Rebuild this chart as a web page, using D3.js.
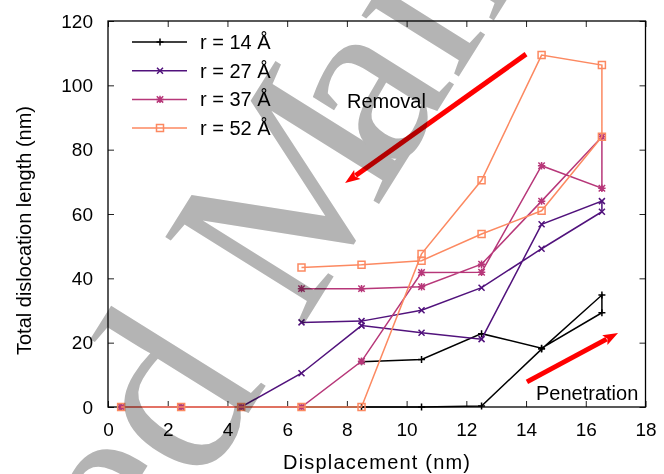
<!DOCTYPE html>
<meta charset="utf-8">
<head>
<style>
  body { margin: 0; background: #fff; }
  text { font-family: "Liberation Sans", Arial, sans-serif; }
</style>
<script src="https://cdn.jsdelivr.net/npm/d3@7"></script>
</head>
<body>
<script>
// displacement steps (nm): indenter going in, then coming back out
var dispPen = [0.44, 2.45, 4.46, 6.48, 8.49, 10.5, 12.51, 14.52, 16.54];
var dispRem = [16.54, 14.52, 12.51, 10.5, 8.49, 6.48];

// total dislocation length (nm)
var r14Pen = [0, 0, 0, 0, 0, 0, 0.3, 18.0, 34.8];
var r14Rem = [29.3, 18.3, 22.8, 14.8, 14.1];
var r27Pen = [0, 0, 0, 10.5, 25.3, 23.1, 21.1, 56.8, 64.0];
var r27Rem = [60.7, 49.2, 37.1, 30.1, 26.7, 26.3];
var r37Pen = [0, 0, 0, 0, 14.2, 41.8, 41.9, 75.0, 68.0];
var r37Rem = [84.0, 64.0, 44.4, 37.4, 36.8, 36.8];
var r52Pen = [0, 0, 0, 0, 0, 47.6, 70.5, 109.4, 106.3];
var r52Rem = [84.0, 61.0, 53.8, 45.5, 44.2, 43.4];

var labels = ["r = 14 Å", "r = 27 Å", "r = 37 Å", "r = 52 Å"];
var colors = ["#000000", "#51127c", "#b73779", "#fc8961"];
var symbols = ["plus", "cross", "star", "square"];

var xTicks = [0, 2, 4, 6, 8, 10, 12, 14, 16, 18];
var yTicks = [0, 20, 40, 60, 80, 100, 120];

var width = 664, height = 474;

var svg = d3.select("body").append("svg")
    .attr("width", width)
    .attr("height", height);

var x = d3.scaleLinear().domain([0, 18]).range([108, 645.5]),
    y = d3.scaleLinear().domain([0, 120]).range([407, 21]);

function joinPath(pen, rem) {
  var pts = pen.map(function(v, i) { return [dispPen[i], v]; });
  return pts.concat(rem.map(function(v, i) { return [dispRem[i], v]; }));
}

var series = [
  joinPath(r14Pen, r14Rem),
  joinPath(r27Pen, r27Rem),
  joinPath(r37Pen, r37Rem),
  joinPath(r52Pen, r52Rem)
];

// axes, ticks pointing inward on all four sides
var axB = svg.append("g").attr("transform", "translate(0,407)")
    .call(d3.axisBottom(x).tickValues(xTicks).tickSize(-6).tickPadding(16));
var axL = svg.append("g").attr("transform", "translate(108,0)")
    .call(d3.axisLeft(y).tickValues(yTicks).tickSize(-6).tickPadding(15));
var axT = svg.append("g").attr("transform", "translate(0,21)")
    .call(d3.axisTop(x).tickValues(xTicks).tickSize(-6).tickFormat(""));
var axR = svg.append("g").attr("transform", "translate(645.5,0)")
    .call(d3.axisRight(y).tickValues(yTicks).tickSize(-6).tickFormat(""));

[axB, axL, axT, axR].forEach(function(a) {
  a.select(".domain").remove();
  a.selectAll("line").attr("stroke", "#222").attr("stroke-width", 1);
  a.selectAll("text")
    .style("font-family", "'Liberation Sans', Arial, sans-serif")
    .style("font-size", "19px")
    .attr("fill", "#000");
});

svg.append("rect")
    .attr("x", 108).attr("y", 21)
    .attr("width", 645.5 - 108).attr("height", 407 - 21)
    .attr("fill", "none").attr("stroke", "#000").attr("stroke-width", 1.3);

svg.append("text")
    .attr("x", 376.5).attr("y", 469)
    .attr("text-anchor", "middle")
    .attr("textLength", 187)
    .style("font-size", "20px")
    .text("Displacement (nm)");

svg.append("text")
    .attr("transform", "translate(31,355)rotate(-90)")
    .style("font-size", "20px")
    .text("Total dislocation length (nm)");

function symbolPath(kind, s) {
  if (kind == "plus") return "M" + -s + ",0H" + s + "M0," + -s + "V" + s;
  if (kind == "cross") return "M" + -s + "," + -s + "L" + s + "," + s + "M" + -s + "," + s + "L" + s + "," + -s;
  if (kind == "star") return symbolPath("plus", s + 0.5) + symbolPath("cross", s);
  return "M" + -s + "," + -s + "H" + s + "V" + s + "H" + -s + "Z";
}
var symSize = {plus: 3.5, cross: 3, star: 3.2, square: 3.5};

var line = d3.line()
    .x(function(d) { return x(d[0]); })
    .y(function(d) { return y(d[1]); });

var plot = svg.append("g");

series.forEach(function(pts, k) {
  var g = plot.append("g");
  g.append("path")
      .datum(pts)
      .attr("d", line)
      .attr("fill", "none")
      .attr("stroke", colors[k])
      .attr("stroke-width", 1.5);
  g.selectAll("path.pt")
      .data(pts)
    .enter().append("path")
      .attr("class", "pt")
      .attr("transform", function(d) { return "translate(" + x(d[0]) + "," + y(d[1]) + ")"; })
      .attr("d", symbolPath(symbols[k], symSize[symbols[k]]))
      .attr("fill", "none")
      .attr("stroke", colors[k])
      .attr("stroke-width", 1.5);
});

// legend
var legend = svg.append("g");
labels.forEach(function(lab, k) {
  var ly = 42 + k * 28.7;
  legend.append("line")
      .attr("x1", 132).attr("x2", 187)
      .attr("y1", ly).attr("y2", ly)
      .attr("stroke", colors[k]).attr("stroke-width", 1.5);
  legend.append("path")
      .attr("transform", "translate(160," + ly + ")")
      .attr("d", symbolPath(symbols[k], symSize[symbols[k]]))
      .attr("fill", "none")
      .attr("stroke", colors[k]).attr("stroke-width", 1.5);
  legend.append("text")
      .attr("x", 200).attr("y", ly + 7)
      .style("font-size", "20px")
      .text(lab);
});

// red arrows + labels
var arrows = [
  {from: [14.0, 109.7], to: [7.94, 69.6]},
  {from: [14.03, 7.8], to: [17.08, 23.0]}
];
arrows.forEach(function(a) {
  var x1 = x(a.from[0]), y1 = y(a.from[1]), x2 = x(a.to[0]), y2 = y(a.to[1]);
  var dx = x2 - x1, dy = y2 - y1, len = Math.sqrt(dx * dx + dy * dy);
  var ux = dx / len, uy = dy / len, head = 15, hw = 5.5;
  var bx = x2 - ux * head, by = y2 - uy * head;
  svg.append("line")
      .attr("x1", x1).attr("y1", y1).attr("x2", bx + ux * 2).attr("y2", by + uy * 2)
      .attr("stroke", "#ff0000").attr("stroke-width", 5);
  svg.append("path")
      .attr("d", "M" + x2 + "," + y2 + "L" + (bx - uy * hw) + "," + (by + ux * hw) +
                 "L" + (bx + ux * 3) + "," + (by + uy * 3) +
                 "L" + (bx + uy * hw) + "," + (by - ux * hw) + "Z")
      .attr("fill", "#ff0000");
});

svg.append("text").attr("x", 347).attr("y", 108).style("font-size", "20px").text("Removal");
svg.append("text").attr("x", 536).attr("y", 400).style("font-size", "20px").text("Penetration");

// watermark on top, multiplied
var wm = svg.append("g")
    .attr("transform", "translate(201,489)rotate(-58)")
    .style("mix-blend-mode", "multiply");
var wmText = wm.append("text")
    .style("font-family", "'Liberation Serif', 'Times New Roman', serif")
    .style("font-size", "250px")
    .attr("fill", "#b4b4b4")
    .attr("dx", "0 0 0 0 0 0 0 0 0 0 -40")
    .text("Accepted Manuscript");
wmText.attr("x", -wmText.node().getSubStringLength(0, 7));
</script>
</body>
